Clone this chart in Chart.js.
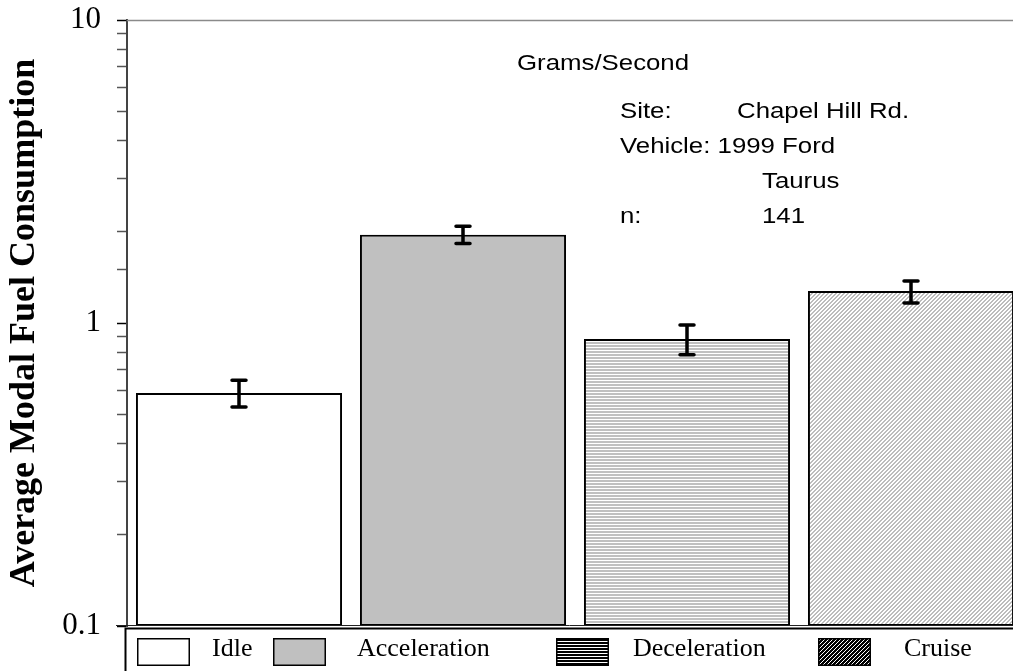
<!DOCTYPE html>
<html>
<head>
<meta charset="utf-8">
<script src="https://cdn.jsdelivr.net/npm/chart.js@4"></script>
<style>
  html, body { margin: 0; padding: 0; background: #fff; overflow: hidden; }
  canvas { display: block; }
</style>
</head>
<body>
<canvas id="fuelChart" width="1040" height="671"></canvas>
<script>
// modal fuel use, grams/second
const modes = ['Idle', 'Acceleration', 'Deceleration', 'Cruise'];
const fuelRate = [0.588, 1.955, 0.885, 1.275];
const errHigh = [0.647, 2.084, 0.985, 1.375];
const errLow = [0.528, 1.831, 0.785, 1.165];
const yTickLabels = ['0.1', '1', '10'];

const noteTexts = ['Grams/Second', 'Site:', 'Chapel Hill Rd.', 'Vehicle: 1999 Ford', 'Taurus', 'n:', '141'];
const notePos = [[517, 70], [620, 118], [737, 118], [620, 153], [762, 188], [620, 223], [762, 223]];

const SERIF = '"Liberation Serif", "Times New Roman", serif';
const SANS = '"Liberation Sans", Arial, sans-serif';

/* ---------- fill patterns ---------- */
function makeTile(w, h, paint) {
  const c = document.createElement('canvas');
  c.width = w; c.height = h;
  const g = c.getContext('2d');
  paint(g);
  return document.createElement('canvas').getContext('2d').createPattern(c, 'repeat');
}

function hStripes(fg, bg) {
  return makeTile(1, 3, g => {
    g.fillStyle = bg; g.fillRect(0, 0, 1, 3);
    g.fillStyle = fg; g.fillRect(0, 0, 1, 2);
  });
}

function diagStripes(fg, bg, thick) {
  return makeTile(4, 4, g => {
    g.fillStyle = bg; g.fillRect(0, 0, 4, 4);
    g.fillStyle = fg;
    for (let x = 0; x < 4; x++) {
      for (let y = 0; y < 4; y++) {
        if ((x + y) % 4 < thick) g.fillRect(x, y, 1, 1);
      }
    }
  });
}

const barFills = [
  '#ffffff',
  '#c0c0c0',
  hStripes('#c0c0c0', '#ffffff'),
  diagStripes('#bcbcbc', '#ffffff', 2)
];
const swatchFills = [
  '#ffffff',
  '#c0c0c0',
  hStripes('#000000', '#ffffff'),
  diagStripes('#000000', '#ffffff', 3)
];

function isDecade(v) {
  const l = Math.log10(v);
  return Math.abs(l - Math.round(l)) < 1e-6;
}

/* ---------- error bars ---------- */
const errorBars = {
  id: 'errorBars',
  afterDatasetsDraw(chart) {
    const { ctx } = chart;
    const y = chart.scales.y;
    const meta = chart.getDatasetMeta(0);
    ctx.save();
    ctx.strokeStyle = '#000';
    ctx.lineWidth = 3.5;
    ctx.lineCap = 'round';
    meta.data.forEach((bar, i) => {
      const top = y.getPixelForValue(errHigh[i]);
      const bot = y.getPixelForValue(errLow[i]);
      ctx.beginPath();
      ctx.moveTo(bar.x, top); ctx.lineTo(bar.x, bot);
      ctx.moveTo(bar.x - 7, top); ctx.lineTo(bar.x + 7, top);
      ctx.moveTo(bar.x - 7, bot); ctx.lineTo(bar.x + 7, bot);
      ctx.stroke();
    });
    ctx.restore();
  }
};

/* ---------- frame lines, legend strip, notes ---------- */
const swatchX = [137, 273, 556, 818];
const legendTextX = [212, 357, 633, 904];

const frame = {
  id: 'frame',
  afterDraw(chart) {
    const { ctx, chartArea: a } = chart;
    ctx.save();

    ctx.strokeStyle = '#8a8a8a';
    ctx.lineWidth = 1.5;
    ctx.beginPath();
    ctx.moveTo(a.left, a.top + 0.5); ctx.lineTo(a.right, a.top + 0.5);
    ctx.stroke();

    ctx.strokeStyle = '#222';
    ctx.lineWidth = 1;
    ctx.beginPath();
    ctx.moveTo(116, a.bottom - 0.5); ctx.lineTo(a.right, a.bottom - 0.5);
    ctx.stroke();

    // legend strip
    ctx.strokeStyle = '#000';
    ctx.lineWidth = 2;
    ctx.beginPath();
    ctx.moveTo(125.5, 680); ctx.lineTo(125.5, 628.5); ctx.lineTo(a.right, 628.5);
    ctx.stroke();

    ctx.lineWidth = 1.5;
    modes.forEach((m, i) => {
      const x = swatchX[i];
      ctx.fillStyle = swatchFills[i];
      ctx.fillRect(x, 638, 53, 28);
      ctx.strokeRect(x + 0.75, 638.75, 51.5, 26.5);
      ctx.fillStyle = '#000';
      ctx.font = '26px ' + SERIF;
      ctx.textBaseline = 'alphabetic';
      ctx.textAlign = 'left';
      ctx.fillText(m, legendTextX[i], 656);
    });

    // notes, set in a wide sans face
    ctx.fillStyle = '#000';
    ctx.font = '21.5px ' + SANS;
    noteTexts.forEach((t, i) => {
      ctx.save();
      ctx.translate(notePos[i][0], notePos[i][1]);
      ctx.scale(1.2, 1);
      ctx.fillText(t, 0, 0);
      ctx.restore();
    });

    ctx.restore();
  }
};

new Chart(document.getElementById('fuelChart'), {
  type: 'bar',
  data: {
    labels: modes,
    datasets: [{
      label: 'Average Modal Fuel Consumption',
      data: fuelRate,
      backgroundColor: barFills,
      borderColor: '#000',
      borderWidth: 2,
      borderSkipped: false,
      categoryPercentage: 1,
      barPercentage: 0.92
    }]
  },
  options: {
    responsive: false,
    devicePixelRatio: 1,
    animation: false,
    layout: { padding: { top: 20, bottom: 45, right: 17, left: 0 } },
    plugins: {
      legend: { display: false },
      tooltip: { enabled: false }
    },
    scales: {
      x: { display: false },
      y: {
        type: 'logarithmic',
        min: 0.1,
        max: 10,
        afterFit(scale) {
          scale.width = 127;
          scale.paddingTop = 0;
          scale.paddingBottom = 0;
        },
        border: { color: '#444', width: 2 },
        grid: {
          drawOnChartArea: false,
          tickLength: 10,
          tickWidth: 1.5,
          tickColor: c => isDecade(c.tick.value) ? '#000' : '#555'
        },
        ticks: {
          autoSkip: false,
          padding: 16,
          color: '#000',
          font: { family: SERIF, size: 31 },
          callback: v => {
            if (!isDecade(v)) return '';
            const idx = Math.round(Math.log10(v)) + 1;
            return yTickLabels[idx];
          }
        },
        title: {
          display: true,
          text: 'Average Modal Fuel Consumption',
          color: '#000',
          font: { family: SERIF, size: 36, weight: 'bold' },
          padding: { top: 3, bottom: 0 }
        }
      }
    }
  },
  plugins: [errorBars, frame]
});
</script>
</body>
</html>
